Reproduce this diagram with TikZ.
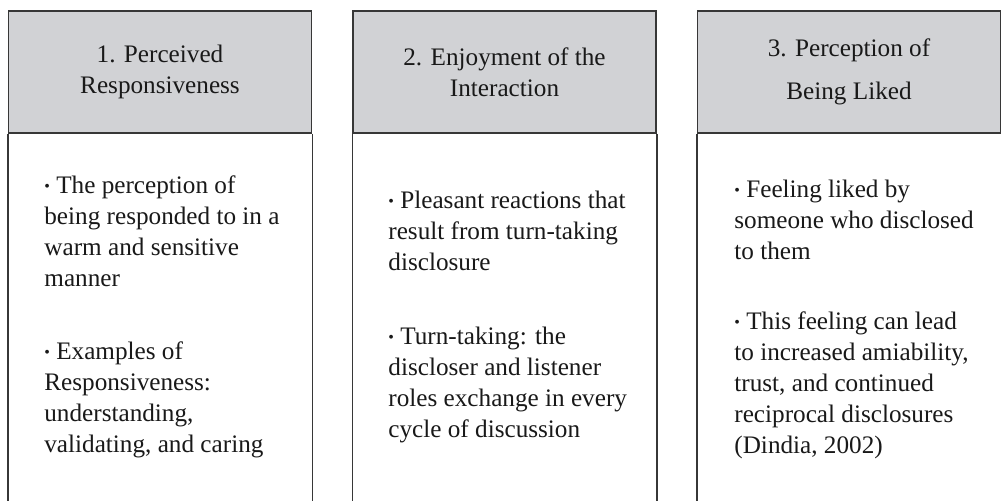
\documentclass[tikz,border=0pt]{standalone}
\usepackage{fontspec}
\setmainfont{Liberation Serif}
\definecolor{hdrgray}{RGB}{209,210,213}
\definecolor{framegray}{RGB}{55,55,55}
\newcommand{\itembul}{\raisebox{1pt}{\footnotesize\textbullet}}
\begin{document}
\begin{tikzpicture}[x=0.5pt,y=-0.5pt]
\tikzstyle{every node}+=[inner sep=0pt, text=black!90, font=\fontsize{12.6}{15.5}\selectfont]
\tikzstyle{frame}=[draw=framegray, line width=0.75pt]
\tikzstyle{hdr}=[frame, fill=hdrgray, minimum width=151.5pt, minimum height=61pt, align=center]
\tikzstyle{body}=[anchor=base west, align=left]
\useasboundingbox (0,0) rectangle (1001,500);
\fill [white] (0,0) rectangle (1001,500);
\coordinate (bot) at (0,504);
% headers
\node [hdr] (hdrA) at (160,72) {1. Perceived\\Responsiveness};
\node [hdr] (hdrB) at (504.5,72) {2. Enjoyment of the\\Interaction};
\node [hdr, font=\fontsize{12.6}{21.5}\selectfont] (hdrC) at (849,72) {3. Perception of\\Being Liked};
% open boxes below the headers
\foreach \n in {A,B,C} {
  \draw [frame] (hdr\n.south west) -- (hdr\n.south west |- bot);
  \draw [frame] (hdr\n.south east) -- (hdr\n.south east |- bot);
}
% column 1 (placed by the baseline of the last line)
\node [body] (txtA1) at (44,286) {\itembul{} The perception of\\being responded to in a\\warm and sensitive\\manner};
\node [body] (txtA2) at (44,452) {\itembul{} Examples of\\Responsiveness:\\understanding,\\validating, and caring};
% column 2
\node [body] (txtB1) at (388,270) {\itembul{} Pleasant reactions that\\result from turn-taking\\disclosure};
\node [body] (txtB2) at (388,437) {\itembul{} Turn-taking: the\\discloser and listener\\roles exchange in every\\cycle of discussion};
% column 3
\node [body] (txtC1) at (734,259) {\itembul{} Feeling liked by\\someone who disclosed\\to them};
\node [body] (txtC2) at (734,453) {\itembul{} This feeling can lead\\to increased amiability,\\trust, and continued\\reciprocal disclosures\\(Dindia, 2002)};
\end{tikzpicture}
\end{document}
